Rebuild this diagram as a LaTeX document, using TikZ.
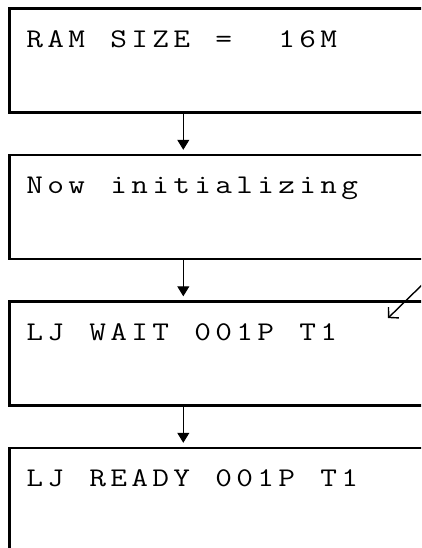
\documentclass[tikz,border=0pt]{standalone}
\usepackage{fontspec}
\usepackage{graphicx}
\usetikzlibrary{positioning,arrows.meta}
% Una cella a passo fisso per ogni carattere del display
\newcommand\lcdcell[1]{\makebox[21pt][c]{\scalebox{1.2}[1]{#1}}}
\newcommand\lcd[1]{\lcdloop#1\relax}
\newcommand\lcdloop[1]{\ifx\relax#1\else\lcdcell{#1}\expandafter\lcdloop\fi}
\begin{document}
\begin{tikzpicture}[
            % Unità in punti, asse y verso il basso
            x={(1pt,0pt)}, y={(0pt,-1pt)},
            node distance=42.5pt,
            % Stili dei display e delle frecce
            screen/.style={draw, rectangle, line width=2.5pt, outer sep=0pt,
                inner xsep=15pt, inner ysep=0pt, text width=420pt, align=left,
                text height=39pt, text depth=65pt,
                font=\ttfamily\fontsize{27}{30}\selectfont},
            flow/.style={line width=1pt, -{Triangle[width=12pt,length=10pt]},
                shorten >=5pt},
            hint/.style={line width=1.4pt, -{Straight Barb[length=7pt,width=15pt]}}
        ]
        \clip (0,0) rectangle (421,548);

        % ==============================
        % Schermate del display
        % ==============================
        \node[screen, anchor=north west] (ram) at (9.3,8.3) {\lcd{RAM~SIZE~=~~16M}};
        \node[screen, below=of ram] (init) {\lcd{Now~initializing}};
        \node[screen, below=of init] (wait) {\lcd{LJ~WAIT~001P~T1}};
        \node[screen, below=of wait] (ready) {\lcd{LJ~READY~001P~T1}};

        % ==============================
        % Frecce di sequenza
        % ==============================
        \draw[flow] ([xshift=174pt]ram.south west) -- ([xshift=174pt]init.north west);
        \draw[flow] ([xshift=174pt]init.south west) -- ([xshift=174pt]wait.north west);
        \draw[flow] ([xshift=174pt]wait.south west) -- ([xshift=174pt]ready.north west);

        % Freccia di richiamo
        \coordinate (note) at (425,282);
        \draw[hint] (note) -- ([shift={(378.7pt,-16.8pt)}]wait.north west);
        \end{tikzpicture}
\end{document}
